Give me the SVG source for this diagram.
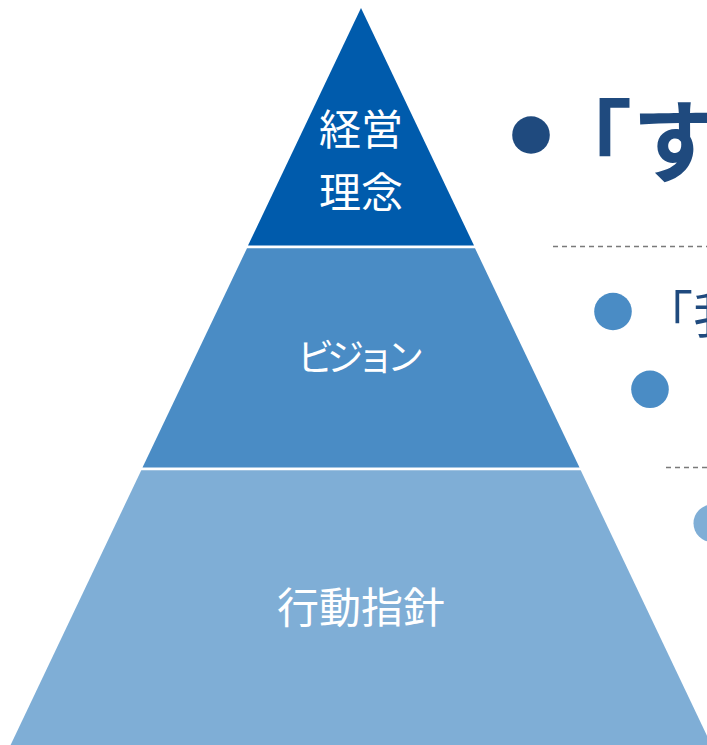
<svg xmlns="http://www.w3.org/2000/svg" width="707" height="745" viewBox="0 0 707 745">
  <style>
    .lbl { font-family: "Noto Sans CJK JP", "Noto Sans", sans-serif; fill: #ffffff; text-anchor: middle; }
    .head { font-family: "Noto Sans CJK JP", "Noto Sans", sans-serif; fill: #1F4A7E; }
    .dash { stroke: #7a7a7a; stroke-width: 1.5; stroke-dasharray: 5 4; fill: none; }
  </style>
  <rect width="707" height="745" fill="#ffffff"/>
  <g id="tier-top">
    <polygon points="361,8 474,245.5 248,245.5" fill="#005BAC"/>
    <text class="lbl" x="361" y="145" font-size="42">経営</text>
    <text class="lbl" x="361" y="208" font-size="42">理念</text>
  </g>
  <g id="tier-middle">
    <polygon points="247,248.2 475,248.2 579.5,467.5 142.5,467.5" fill="#4A8CC5"/>
    <text class="lbl" x="357" y="371" font-size="37" letter-spacing="-7">ビジョン</text>
  </g>
  <g id="tier-bottom">
    <polygon points="141.3,470.2 580.7,470.2 711.4,745 10.6,745" fill="#7FAED6"/>
    <text class="lbl" x="361" y="623" font-size="42">行動指針</text>
  </g>
  <g id="heading">
    <circle cx="531" cy="135" r="18.8" fill="#1F4A7E"/>
    <text class="head" x="542" y="175" font-size="90" font-weight="bold">「す</text>
  </g>
  <g id="connectors">
    <line class="dash" x1="553" y1="246.5" x2="707" y2="246.5"/>
    <line class="dash" x1="666" y1="467.5" x2="707" y2="467.5"/>
  </g>
  <g id="item1">
    <circle cx="613" cy="311.5" r="18.8" fill="#4A8CC5"/>
    <text class="head" x="643" y="333" font-size="50">「我</text>
  </g>
  <g id="item2">
    <circle cx="650" cy="389.3" r="18.8" fill="#4A8CC5"/>
  </g>
  <g id="item3">
    <circle cx="712.3" cy="523.3" r="18.8" fill="#7FAED6"/>
  </g>
</svg>
